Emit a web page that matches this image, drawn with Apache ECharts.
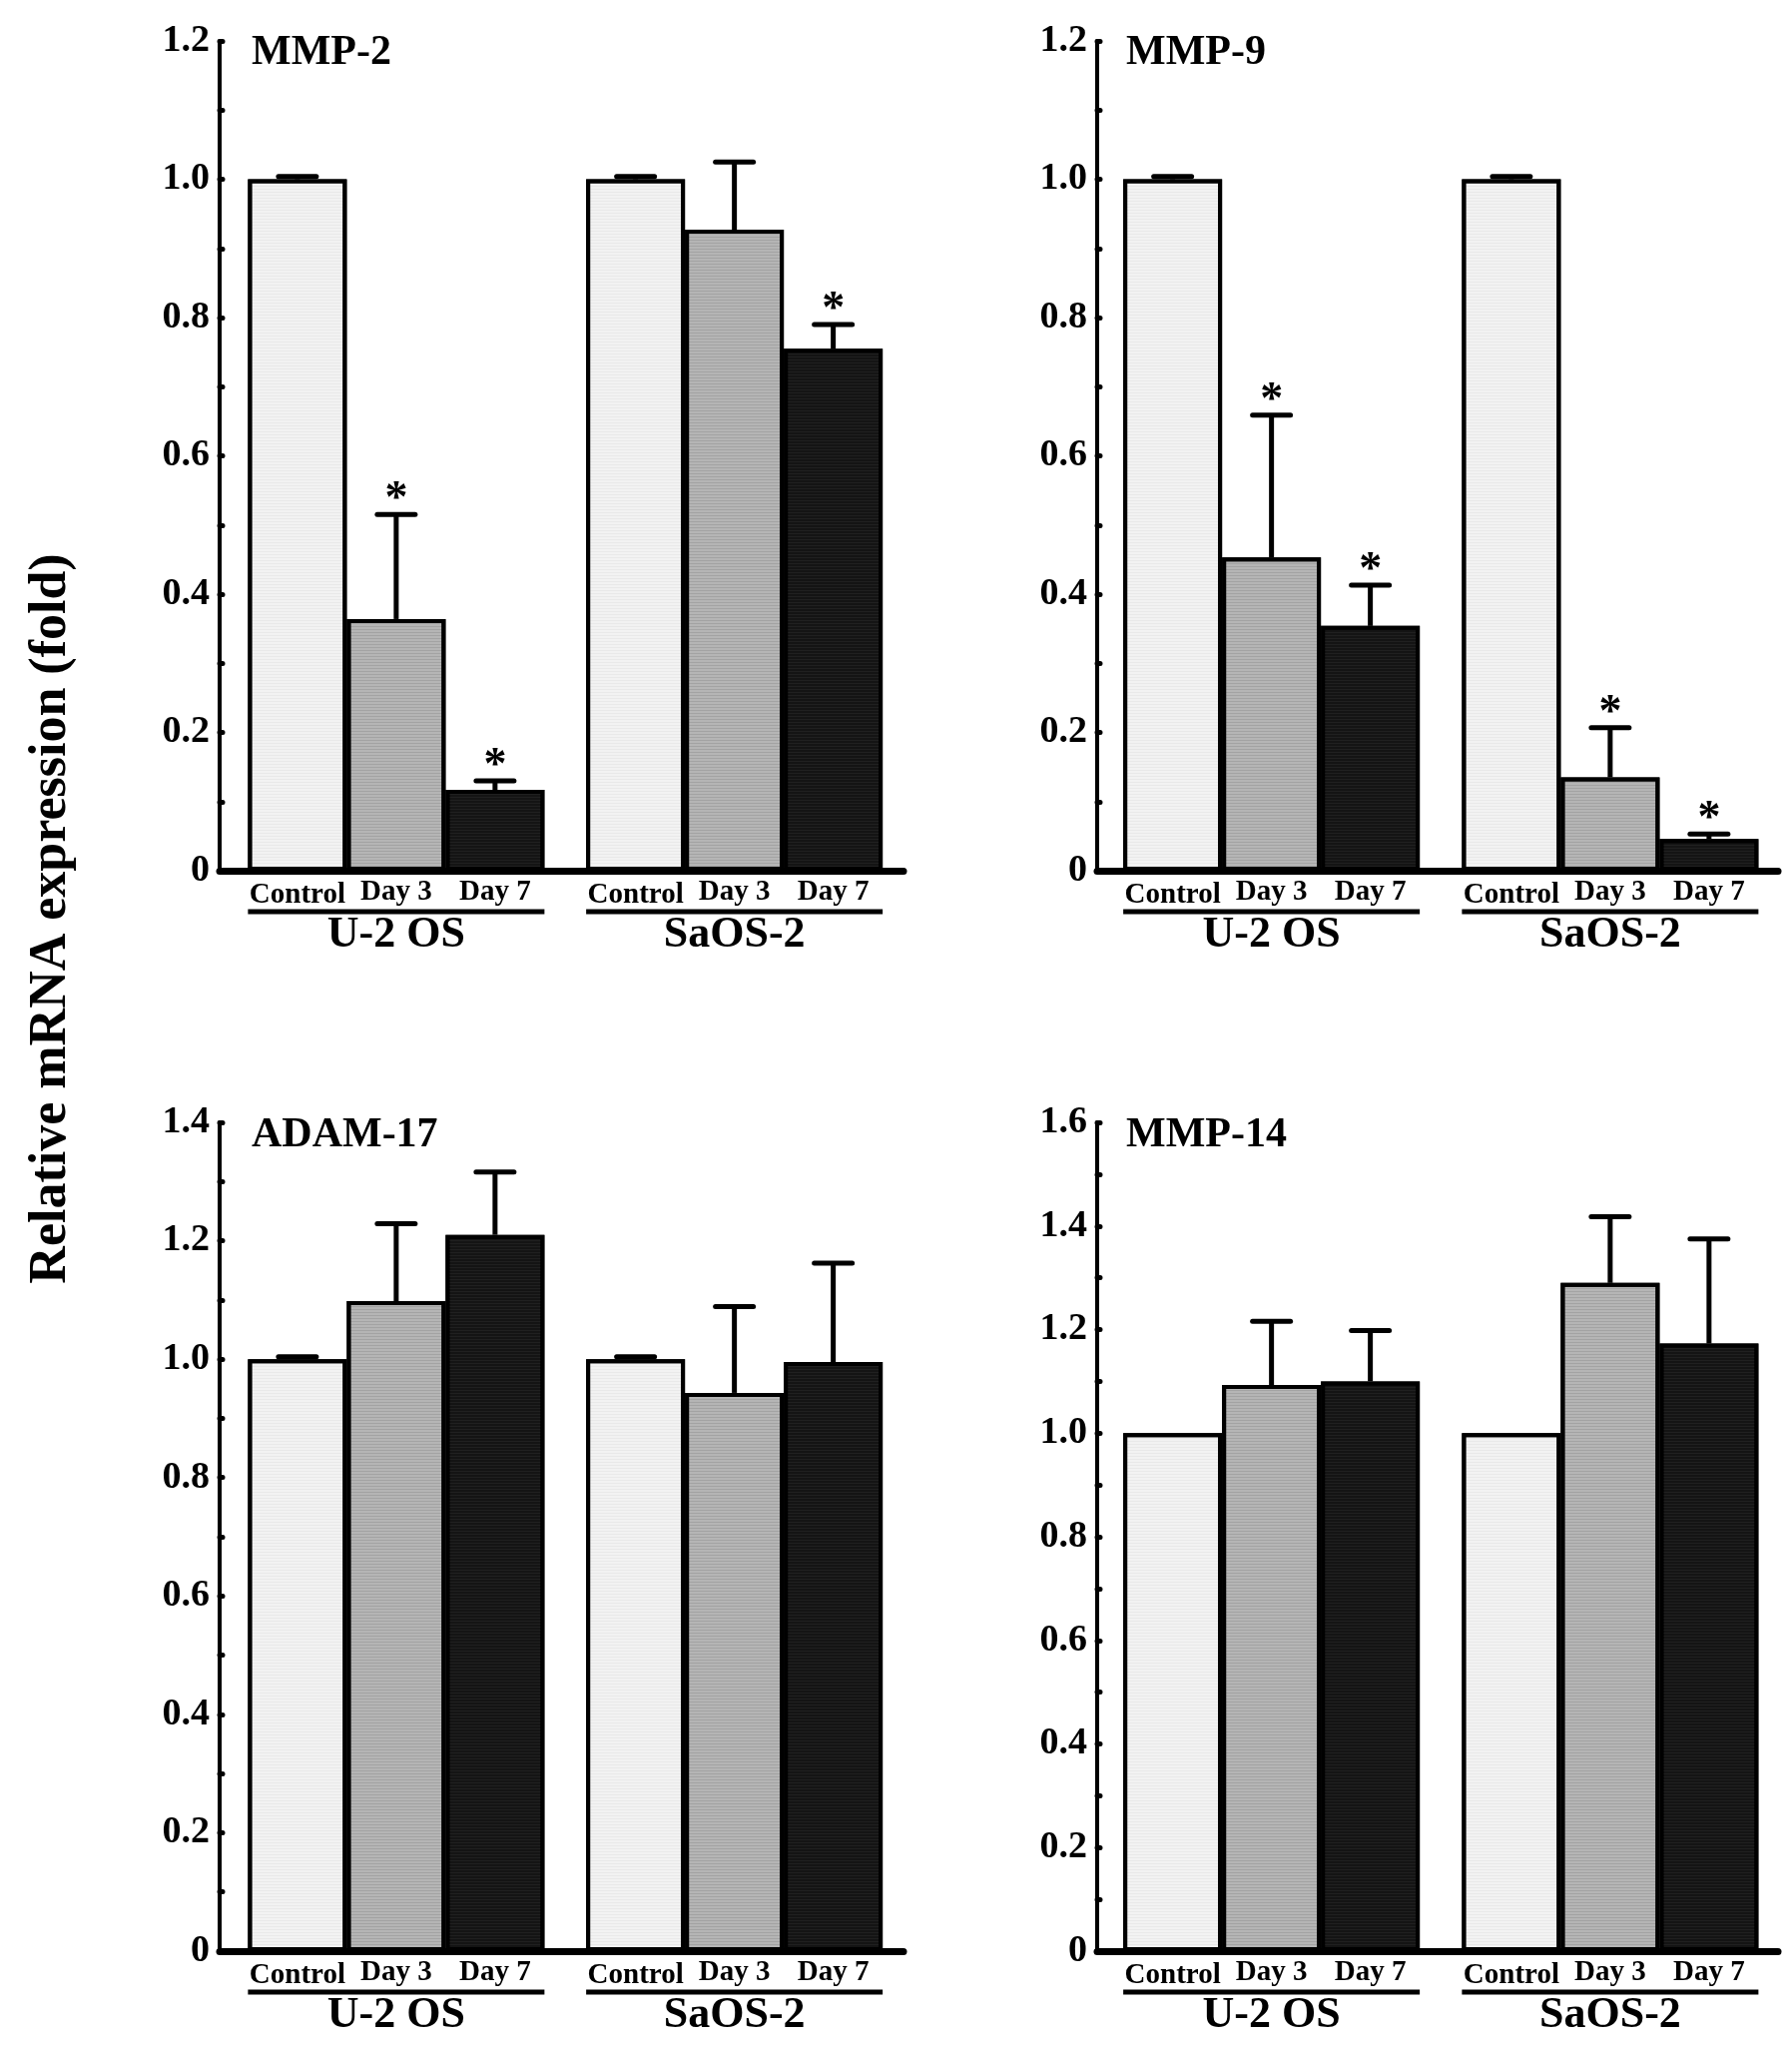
<!DOCTYPE html>
<html><head><meta charset="utf-8">
<script src="https://cdn.jsdelivr.net/npm/echarts@6/dist/echarts.min.js"></script>
<style>html,body{margin:0;padding:0;background:#fff}#c{width:1795px;height:2049px}</style>
</head><body><div id="c"></div>
<script>
// ---------------- data ----------------
const GROUPS = ['U-2 OS', 'SaOS-2'];
const CONDITIONS = ['Control', 'Day 3', 'Day 7'];
const PANEL_TITLES = ['MMP-2', 'MMP-9', 'ADAM-17', 'MMP-14'];
const Y_MAX = [1.2, 1.2, 1.4, 1.6];
const Y_INTERVAL = [0.2, 0.2, 0.2, 0.2];
const Y_AXIS_TITLE = 'Relative mRNA expression (fold)';

// rows: Control, Day 3, Day 7 ; columns: U-2 OS, SaOS-2
const MMP2_MEAN = [[1.0, 1.0], [0.364, 0.927], [0.117, 0.755]];
const MMP2_ERR  = [[0.004, 0.004], [0.151, 0.098], [0.013, 0.035]];
const MMP2_SIG  = [[0, 0], [1, 0], [1, 1]];

const MMP9_MEAN = [[1.0, 1.0], [0.453, 0.135], [0.354, 0.046]];
const MMP9_ERR  = [[0.004, 0.004], [0.206, 0.072], [0.059, 0.007]];
const MMP9_SIG  = [[0, 0], [1, 1], [1, 1]];

const ADAM17_MEAN = [[1.0, 1.0], [1.098, 0.943], [1.21, 0.995]];
const ADAM17_ERR  = [[0.004, 0.004], [0.131, 0.146], [0.106, 0.167]];
const ADAM17_SIG  = [[0, 0], [0, 0], [0, 0]];

const MMP14_MEAN = [[1.0, 1.0], [1.093, 1.29], [1.10, 1.173]];
const MMP14_ERR  = [[0, 0], [0.123, 0.128], [0.098, 0.202]];
const MMP14_SIG  = [[0, 0], [0, 0], [0, 0]];

const MEANS = [MMP2_MEAN, MMP9_MEAN, ADAM17_MEAN, MMP14_MEAN];
const ERRS = [MMP2_ERR, MMP9_ERR, ADAM17_ERR, MMP14_ERR];
const SIGS = [MMP2_SIG, MMP9_SIG, ADAM17_SIG, MMP14_SIG];

// ---------------- style ----------------
const FONT = "'Liberation Serif', 'Times New Roman', serif";
const BAR_W = 99;
const CAP_W = 38;
const FILLS = ['#f2f2f2', '#b5b5b5', '#141414'];
const STRIPES = ['rgba(0,0,0,0.04)', 'rgba(0,0,0,0.10)', 'rgba(255,255,255,0.05)'];
// data grids (bars) and frame grids (axis lines)
const DATA_GRIDS = [
  {left: 227.5, right: 890, top: 41, bottom: 1177},
  {left: 1104, right: 12.5, top: 41, bottom: 1177},
  {left: 227.5, right: 890, top: 1124, bottom: 95},
  {left: 1104, right: 12.5, top: 1124, bottom: 95}
];
const FRAME_GRIDS = [
  {left: 220, right: 890, top: 41, bottom: 1177},
  {left: 1099, right: 14, top: 41, bottom: 1177},
  {left: 220, right: 890, top: 1124, bottom: 95},
  {left: 1099, right: 14, top: 1124, bottom: 95}
];
const TITLE_POS = [[252, 54], [1128, 54], [252, 1138], [1128, 1138]];

const chart = echarts.init(document.getElementById('c'), null, {renderer: 'canvas'});

const grid = [], xAxis = [], yAxis = [], series = [], graphic = [];

PANEL_TITLES.forEach((title, p) => {
  const gData = 2 * p, gFrame = 2 * p + 1;
  grid.push(Object.assign({containLabel: false}, DATA_GRIDS[p]));
  grid.push(Object.assign({containLabel: false}, FRAME_GRIDS[p]));

  // data axes
  xAxis.push({
    type: 'category', gridIndex: gData, data: GROUPS,
    axisLine: {show: false}, axisTick: {show: false}, axisLabel: {show: false}, splitLine: {show: false}
  });
  yAxis.push({
    type: 'value', gridIndex: gData, min: 0, max: Y_MAX[p], interval: Y_INTERVAL[p],
    offset: DATA_GRIDS[p].left - FRAME_GRIDS[p].left,
    axisLine: {show: true, lineStyle: {color: '#000', width: 4}},
    axisTick: {show: true, inside: true, length: 3, lineStyle: {color: '#000', width: 5, cap: 'round'}},
    minorTick: {show: true, splitNumber: 2, length: 3, lineStyle: {color: '#000', width: 5, cap: 'round'}},
    splitLine: {show: false},
    axisLabel: {
      color: '#000', fontFamily: FONT, fontWeight: 'bold', fontSize: 38, margin: 10,
      formatter: v => (v === 0 ? '0' : v.toFixed(1))
    }
  });
  // frame axes (x axis baseline that starts at the y axis)
  xAxis.push({
    type: 'category', gridIndex: gFrame, data: GROUPS,
    axisLine: {show: true, lineStyle: {color: '#000', width: 7}},
    axisTick: {show: false}, axisLabel: {show: false}, splitLine: {show: false}, z: 10
  });
  yAxis.push({type: 'value', gridIndex: gFrame, min: 0, max: Y_MAX[p], show: false});

  CONDITIONS.forEach((cond, c) => {
    series.push({
      type: 'bar', name: cond, xAxisIndex: gData, yAxisIndex: gData,
      barWidth: BAR_W, barGap: '0%',
      data: MEANS[p][c],
      itemStyle: {
        color: FILLS[c], borderColor: '#000', borderWidth: 4,
        decal: {symbol: 'rect', symbolSize: 1, dashArrayX: [[1, 0]], dashArrayY: [1, 2], color: STRIPES[c]}
      },
      emphasis: {disabled: true},
      silent: true, z: 2
    });
  });

  // error bars + significance stars
  const errData = [];
  CONDITIONS.forEach((cond, c) => {
    GROUPS.forEach((g, gi) => {
      errData.push([gi, MEANS[p][c][gi], ERRS[p][c][gi], SIGS[p][c][gi], c]);
    });
  });
  series.push({
    type: 'custom', xAxisIndex: gData, yAxisIndex: gData, clip: false, silent: true, z: 5,
    data: errData,
    encode: {x: 0, y: 1},
    renderItem: (params, api) => {
      const gi = api.value(0), m = api.value(1), e = api.value(2), sig = api.value(3), c = api.value(4);
      const base = api.coord([gi, m]);
      const top = api.coord([gi, m + e]);
      const x = base[0] + (c - 1) * BAR_W;
      const children = [];
      if (e > 0) {
        children.push({type: 'line', shape: {x1: x, y1: base[1], x2: x, y2: top[1]},
          style: {stroke: '#000', lineWidth: 5}});
        children.push({type: 'line', shape: {x1: x - CAP_W / 2, y1: top[1], x2: x + CAP_W / 2, y2: top[1]},
          style: {stroke: '#000', lineWidth: 5, lineCap: 'round'}});
      }
      if (sig) {
        children.push({type: 'text', style: {text: '*', x: x, y: top[1] - 14,
          textAlign: 'center', textVerticalAlign: 'middle',
          font: 'bold 46px ' + FONT, fill: '#000'}});
      }
      return {type: 'group', children};
    }
  });

  // category labels, underline and group names below the axis
  series.push({
    type: 'custom', xAxisIndex: gData, yAxisIndex: gData, clip: false, silent: true, z: 5,
    data: GROUPS.map((g, gi) => [gi, 0]),
    encode: {x: 0, y: 1},
    renderItem: (params, api) => {
      const gi = api.value(0);
      const pt = api.coord([gi, 0]);
      const children = [];
      CONDITIONS.forEach((cond, c) => {
        children.push({type: 'text', style: {text: cond, x: pt[0] + (c - 1) * BAR_W,
          y: pt[1] + (c === 0 ? 24.5 : 22),
          textAlign: 'center', textVerticalAlign: 'middle',
          font: 'bold 29px ' + FONT, fill: '#000'}});
      });
      children.push({type: 'line', shape: {x1: pt[0] - 1.5 * BAR_W, y1: pt[1] + 41,
        x2: pt[0] + 1.5 * BAR_W, y2: pt[1] + 41}, style: {stroke: '#000', lineWidth: 5}});
      children.push({type: 'text', style: {text: GROUPS[gi], x: pt[0], y: pt[1] + 65,
        textAlign: 'center', textVerticalAlign: 'middle',
        font: 'bold 44px ' + FONT, fill: '#000'}});
      return {type: 'group', children};
    }
  });

  graphic.push({type: 'text', left: TITLE_POS[p][0], top: TITLE_POS[p][1] - 22,
    style: {text: title, font: 'bold 42px ' + FONT, fill: '#000'}});
});

graphic.push({
  type: 'text', x: 52, y: 920, rotation: Math.PI / 2,
  style: {text: Y_AXIS_TITLE, font: 'bold 52px ' + FONT, fill: '#000',
    textAlign: 'center', textVerticalAlign: 'middle'}
});

chart.setOption({
  animation: false,
  backgroundColor: '#fff',
  grid, xAxis, yAxis, series, graphic
});
</script>
</body></html>
